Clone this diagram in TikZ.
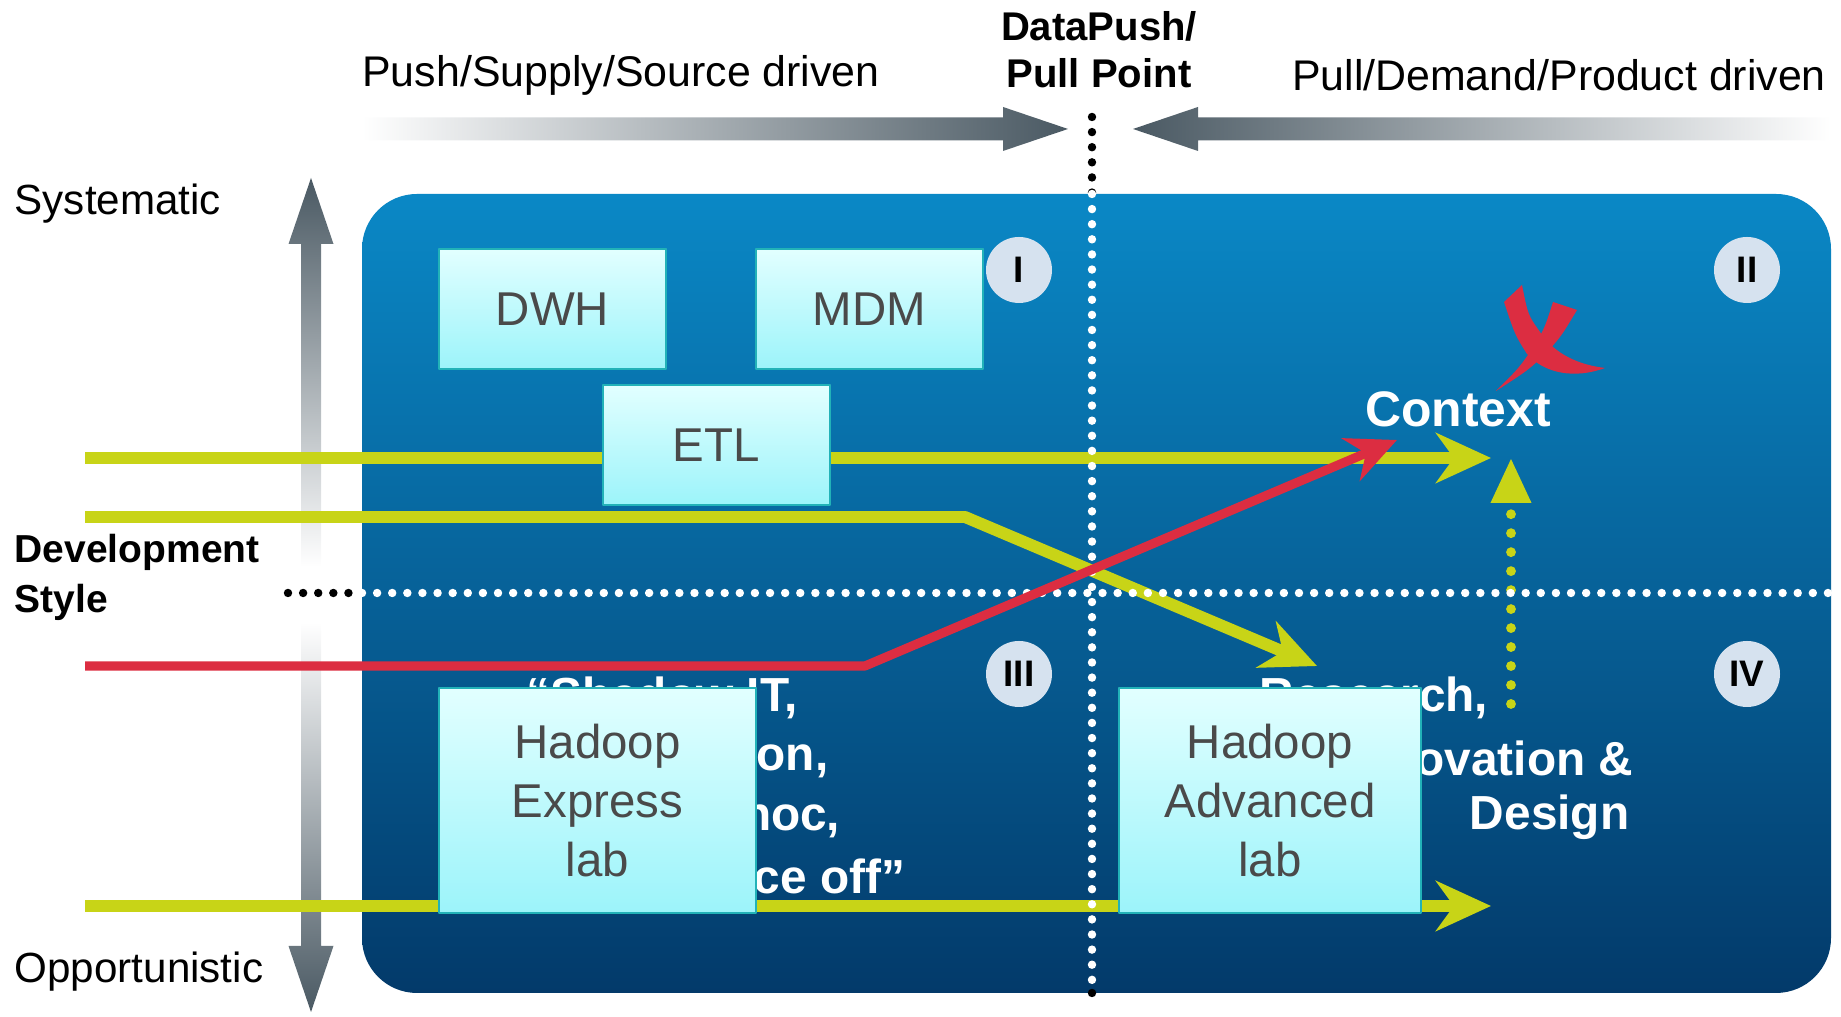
\documentclass[tikz,border=0pt]{standalone}
\usepackage{fontspec}
\setmainfont{Liberation Sans}
\usepackage{tikz}
\usetikzlibrary{arrows.meta, shapes.geometric}

\definecolor{paneltop}{HTML}{0A88C6}
\definecolor{panelbot}{HTML}{033A6A}
\definecolor{boxtop}{HTML}{E2FFFF}
\definecolor{boxbot}{HTML}{9CF4FA}
\definecolor{boxedge}{HTML}{22B2B8}
\definecolor{boxtext}{HTML}{4A4A4A}
\definecolor{quadfill}{HTML}{D6E2EF}
\definecolor{flowyellow}{HTML}{C8D417}
\definecolor{flowred}{HTML}{DC2D41}
\definecolor{arrowgray}{HTML}{4A5963}

\begin{document}
\begin{tikzpicture}[>={Stealth[length=5.5mm,width=5mm]},line join=round]
\tikzstyle{box} = [draw=boxedge, line width=0.8pt, top color=boxtop, bottom color=boxbot, text=boxtext, font=\fontsize{13.5}{16.8}\selectfont, align=center, inner sep=0pt]
\tikzstyle{quadrant} = [circle, fill=quadfill, minimum size=6.6mm, inner sep=0pt, font=\fontsize{10.5}{12}\selectfont\bfseries]
\tikzstyle{flow} = [draw=flowyellow, line width=3.4pt]
\tikzstyle{risk} = [draw=flowred, line width=2.6pt]
\tikzstyle{dotline} = [white, line width=2.4pt, line cap=round, dash pattern=on 0pt off 4.3pt]
\tikzstyle{toplabel} = [font=\fontsize{12.2}{14}\selectfont]
\tikzstyle{sidelabel} = [anchor=west, inner sep=0pt, font=\fontsize{12}{14}\selectfont]
\tikzstyle{backtext} = [white, anchor=east, inner sep=0pt, font=\fontsize{13.6}{16}\selectfont\bfseries]

\useasboundingbox (0,0) rectangle (18.41,10.17);

% blue panel
\shade[top color=paneltop, bottom color=panelbot, rounded corners=5.5mm] (3.62,0.24) rectangle (18.31,8.23);

% push and pull arrows
\shade[left color=white, right color=arrowgray] (3.62,8.765) -- (10.03,8.765) -- (10.03,8.66) -- (10.68,8.88) -- (10.03,9.10) -- (10.03,8.995) -- (3.62,8.995) -- cycle;
\shade[left color=arrowgray, right color=white] (18.31,8.765) -- (11.98,8.765) -- (11.98,8.66) -- (11.33,8.88) -- (11.98,9.10) -- (11.98,8.995) -- (18.31,8.995) -- cycle;

% development style arrow
\shade[top color=arrowgray, bottom color=white] (3.01,4.50) -- (3.01,7.73) -- (2.885,7.73) -- (3.11,8.39) -- (3.335,7.73) -- (3.21,7.73) -- (3.21,4.50) -- cycle;
\shade[top color=white, bottom color=arrowgray] (3.01,3.95) -- (3.01,0.71) -- (2.885,0.71) -- (3.11,0.05) -- (3.335,0.71) -- (3.21,0.71) -- (3.21,3.95) -- cycle;

% labels
\node (push) at (6.21,9.42) [toplabel] {Push/Supply/Source driven};
\node (point) at (10.99,9.67) [align=center, font=\fontsize{11.4}{13.4}\selectfont\bfseries] {DataPush/\\Pull Point};
\node (pull) at (15.59,9.42) [toplabel] {Pull/Demand/Product driven};
\node (systematic) at (0.14,8.13) [sidelabel] {Systematic};
\node (devstyle) at (0.14,4.40) [sidelabel, align=left, font=\fontsize{11.1}{14.2}\selectfont\bfseries] {Development\\Style};
\node (opportunistic) at (0.14,0.45) [sidelabel] {Opportunistic};

% text behind the labs
\node (shadow1) at (7.98,3.19) [backtext] {“Shadow IT,};
\node (shadow2) at (8.29,2.59) [backtext] {Exploration,};
\node (shadow3) at (8.41,2.00) [backtext] {Ad hoc,};
\node (shadow4) at (9.06,1.41) [backtext] {Once off”};
\node (research1) at (14.89,3.19) [backtext] {Research,};
\node (research2) at (16.34,2.59) [backtext] {Innovation \&};
\node (research3) at (16.30,2.00) [backtext] {Design};

% flow ends
\coordinate (etlin) at (0.85,5.59);
\coordinate (etlout) at (14.91,5.59);
\coordinate (labin) at (0.85,5.00);
\coordinate (labbend) at (9.65,5.00);
\coordinate (labout) at (13.17,3.51);
\coordinate (hadoopin) at (0.85,1.11);
\coordinate (hadoopout) at (14.91,1.11);
\coordinate (shadowin) at (0.85,3.51);
\coordinate (shadowbend) at (8.65,3.51);
\coordinate (shadowout) at (13.97,5.77);
\coordinate (innovfrom) at (15.11,3.13);
\coordinate (innovto) at (15.11,5.59);

\draw[flow, ->] (etlin) -- (etlout);
\draw[flow, ->] (labin) -- (labbend) -- (labout);
\draw[flow, ->] (hadoopin) -- (hadoopout);
\draw[draw=flowyellow, line width=2.8pt, line cap=round, dash pattern=on 0pt off 5.4pt, -{Triangle[length=4.5mm,width=3.8mm]}] (innovfrom) -- (innovto);

% push/pull point and development style lines
\draw[dotline, black] (10.92,9.00) -- (10.92,8.23);
\draw[dotline] (10.92,8.23) -- (10.92,0.24);
\draw[dotline, black] (10.92,0.24) -- (10.92,0.10);
\draw[dotline, black] (2.88,4.24) -- (3.62,4.24);
\draw[dotline] (3.62,4.24) -- (18.31,4.24);

\draw[risk, -{Stealth[length=5mm,width=4.6mm]}] (shadowin) -- (shadowbend) -- (shadowout);

% boxes
\node (dwh) at (5.525,7.08) [box, minimum width=2.27cm, minimum height=1.2cm] {DWH};
\node (mdm) at (8.695,7.08) [box, minimum width=2.27cm, minimum height=1.2cm] {MDM};
\node (etl) at (7.165,5.72) [box, minimum width=2.27cm, minimum height=1.2cm] {ETL};
\node (express) at (5.975,2.165) [box, minimum width=3.17cm, minimum height=2.25cm] {Hadoop\\Express\\lab};
\node (advanced) at (12.70,2.165) [box, minimum width=3.02cm, minimum height=2.25cm] {Hadoop\\Advanced\\lab};

\node (qI) at (10.19,7.47) [quadrant] {I};
\node (qII) at (17.47,7.47) [quadrant] {II};
\node (qIII) at (10.19,3.43) [quadrant] {III};
\node (qIV) at (17.47,3.43) [quadrant] {IV};

\node (context) at (14.58,6.08) [white, font=\fontsize{14.2}{16}\selectfont\bfseries] {Context};

% red cross
\fill[flowred] (15.04,7.15) -- (15.22,7.32) .. controls (15.28,7.02) .. (15.40,6.85) .. controls (15.55,6.62) and (15.80,6.52) .. (16.05,6.49) .. controls (15.75,6.38) and (15.45,6.43) .. (15.27,6.63) .. controls (15.15,6.82) .. cycle;
\fill[flowred] (15.53,7.15) -- (15.77,7.07) .. controls (15.62,6.82) .. (15.50,6.68) .. controls (15.30,6.48) .. (14.96,6.26) .. controls (15.20,6.50) .. (15.36,6.74) .. controls (15.45,6.90) .. cycle;

\end{tikzpicture}
\end{document}
